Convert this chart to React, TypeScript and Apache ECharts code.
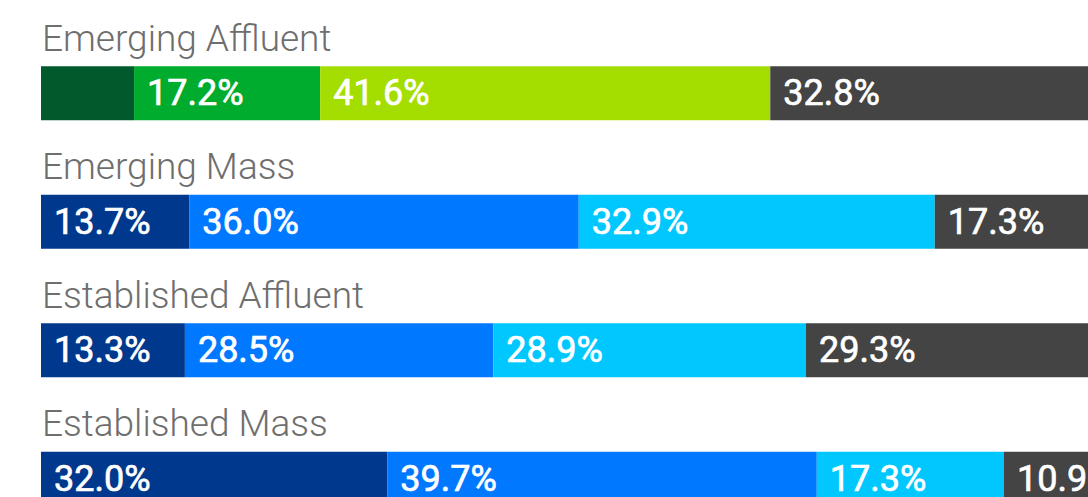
import React, { useEffect, useRef } from "react";
import * as echarts from "echarts";

const categories = ["Emerging Affluent", "Emerging Mass", "Established Affluent", "Established Mass"];
const seg1 = [8.6, 13.7, 13.3, 32.0];
const seg2 = [17.2, 36.0, 28.5, 39.7];
const seg3 = [41.6, 32.9, 28.9, 17.3];
const seg4 = [32.8, 17.3, 29.3, 10.9];
const showLabel1 = [false, true, true, true];

const greenColors = ["#005A2B", "#00AC2E", "#A4DD00", "#444444"];
const blueColors = ["#00388D", "#0078FF", "#00C8FF", "#444444"];

const GRID_TOP = 29;
const GRID_H = 514;
const GRID_LEFT = 41;
const GRID_W = 1082;

export default function App() {
  const ref = useRef<HTMLDivElement>(null);
  useEffect(() => {
    if (!ref.current) return;
    const chart = echarts.init(ref.current, undefined, { renderer: "svg" });
    const segs = [seg1, seg2, seg3, seg4];
    const band = GRID_H / categories.length;
    const labelBase = {
      show: true,
      position: "insideLeft",
      distance: 13,
      color: "#ffffff",
      textBorderColor: "#ffffff",
      textBorderWidth: 0.7,
      fontSize: 36,
      fontWeight: 400,
      fontFamily: "Roboto",
      formatter: (p: any) => `${Number(p.value).toFixed(1)}%`,
    };
    const series = segs.map((vals, si) => ({
      type: "bar",
      stack: "total",
      barWidth: 54,
      data: vals.map((v, ci) => ({
        value: v,
        itemStyle: { color: (ci === 0 ? greenColors : blueColors)[si] },
        label: si === 0 && !showLabel1[ci] ? { show: false } : undefined,
      })),
      label: labelBase,
    }));
    chart.setOption({
      animation: false,
      grid: { left: GRID_LEFT, top: GRID_TOP, width: GRID_W, height: GRID_H },
      xAxis: { type: "value", min: 0, max: 100, show: false },
      yAxis: { type: "category", data: categories, inverse: true, show: false },
      graphic: categories.map((c, i) => ({
        type: "text",
        x: 42,
        y: GRID_TOP + i * band + band / 2 - 55,
        style: {
          text: c,
          fill: "#6e6e6e",
          fontSize: 37,
          fontWeight: 300,
          fontFamily: "Roboto",
          verticalAlign: "middle",
        },
      })),
      series,
    });
    return () => chart.dispose();
  }, []);
  return (
    <div style={{ position: "fixed", left: 0, top: 0, width: 1088, height: 497, overflow: "hidden", background: "#fff" }}>
      <div ref={ref} style={{ width: 1140, height: 560 }} />
    </div>
  );
}
